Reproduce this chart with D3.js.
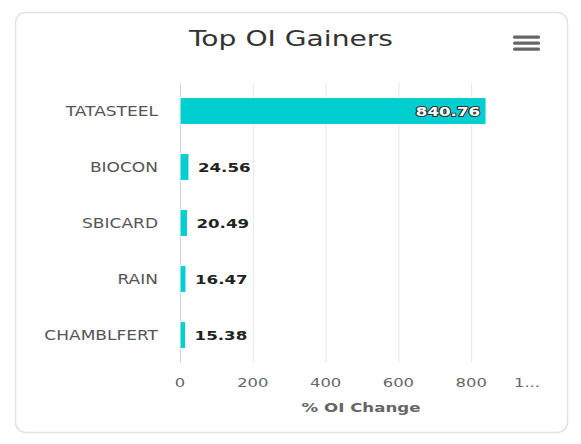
<!DOCTYPE html>
<html>
<head>
<meta charset="utf-8">
<script src="https://cdn.jsdelivr.net/npm/d3@7"></script>
<style>
  html, body { margin: 0; padding: 0; background: #fff; }
  svg { display: block; }
  text { font-family: "DejaVu Sans", sans-serif; }
</style>
</head>
<body>
<svg id="chart" width="581" height="444"></svg>
<script>
// ---- data ----
const categories = ["TATASTEEL", "BIOCON", "SBICARD", "RAIN", "CHAMBLFERT"];
const values = [840.76, 24.56, 20.49, 16.47, 15.38];
const tickValues = [0, 200, 400, 600, 800, 1000];
const tickLabels = ["0", "200", "400", "600", "800", "1..."];
const titleText = "Top OI Gainers";
const axisTitle = "% OI Change";

// ---- layout ----
const W = 581, H = 444;
const SX = 1.28; // horizontal stretch of the source image
const plot = { left: 180, right: 544, top: 83, bottom: 363 };
const barColor = "#00CED1";

const svg = d3.select("#chart");

// card
svg.append("rect")
  .attr("x", 15.5).attr("y", 12.5)
  .attr("width", 552).attr("height", 420)
  .attr("rx", 10).attr("ry", 10)
  .attr("fill", "#fff")
  .attr("stroke", "#e3e3e3").attr("stroke-width", 1.5);

function stretchedText(x, y, str, anchor) {
  const g = svg.append("g").attr("transform", `translate(${x},${y}) scale(${SX},1)`);
  return g.append("text").attr("x", 0).attr("y", 0).attr("text-anchor", anchor).text(str);
}

// title
stretchedText(291, 46, titleText, "middle")
  .attr("font-size", 22).attr("fill", "#333");

// menu icon
const menu = svg.append("g").attr("fill", "#666");
[37, 43, 49].forEach(y => {
  menu.append("rect").attr("x", 513).attr("y", y - 1.5).attr("width", 27).attr("height", 3.2).attr("rx", 1.5);
});

// scales
const x = d3.scaleLinear().domain([0, 1000]).range([plot.left, plot.right]);
const y = d3.scaleBand().domain(categories).range([plot.top, plot.bottom])
  .paddingInner(0.52).paddingOuter(0.26);

// gridlines
svg.append("g").selectAll("line")
  .data(tickValues.filter(v => v > 0 && v < 1000))
  .join("line")
  .attr("x1", d => x(d) + 0.5).attr("x2", d => x(d) + 0.5)
  .attr("y1", plot.top).attr("y2", plot.bottom)
  .attr("stroke", "#e6e6e6").attr("stroke-width", 1);

// axis line (y axis at 0)
svg.append("line")
  .attr("x1", x(0) + 0.5).attr("x2", x(0) + 0.5)
  .attr("y1", plot.top).attr("y2", plot.bottom)
  .attr("stroke", "#ccd6eb").attr("stroke-width", 1);

// bars
svg.append("g").selectAll("rect")
  .data(categories)
  .join("rect")
  .attr("x", x(0))
  .attr("y", d => y(d))
  .attr("width", (d, i) => x(values[i]) - x(0))
  .attr("height", y.bandwidth())
  .attr("fill", barColor)
  .attr("stroke", "#fff").attr("stroke-width", 1);

// category labels
categories.forEach((c, i) => {
  stretchedText(158, y(c) + y.bandwidth() / 2 + 4.8, c, "end")
    .attr("font-size", 13.3).attr("fill", "#555");
});

// data labels
values.forEach((v, i) => {
  const cy = y(categories[i]) + y.bandwidth() / 2 + 5;
  const barEnd = x(v);
  const label = v.toFixed(2);
  if (barEnd - x(0) > 80) {
    stretchedText(barEnd - 6, cy, label, "end")
      .attr("font-size", 13).attr("font-weight", "bold")
      .attr("fill", "#fff").attr("stroke", "#333").attr("stroke-width", 2)
      .attr("paint-order", "stroke").attr("stroke-linejoin", "round");
  } else {
    stretchedText(barEnd + 9, cy, label, "start")
      .attr("font-size", 13).attr("font-weight", "bold")
      .attr("fill", "#222");
  }
});

// x tick labels
tickValues.forEach((t, i) => {
  const isLast = i === tickValues.length - 1;
  const tx = isLast ? x(t) - 17 : x(t);
  stretchedText(tx, 386.5, tickLabels[i], "middle")
    .attr("font-size", 12.8).attr("fill", "#666");
});

// axis title
stretchedText(361, 412, axisTitle, "middle")
  .attr("font-size", 13).attr("font-weight", "bold").attr("fill", "#666");
</script>
</body>
</html>
